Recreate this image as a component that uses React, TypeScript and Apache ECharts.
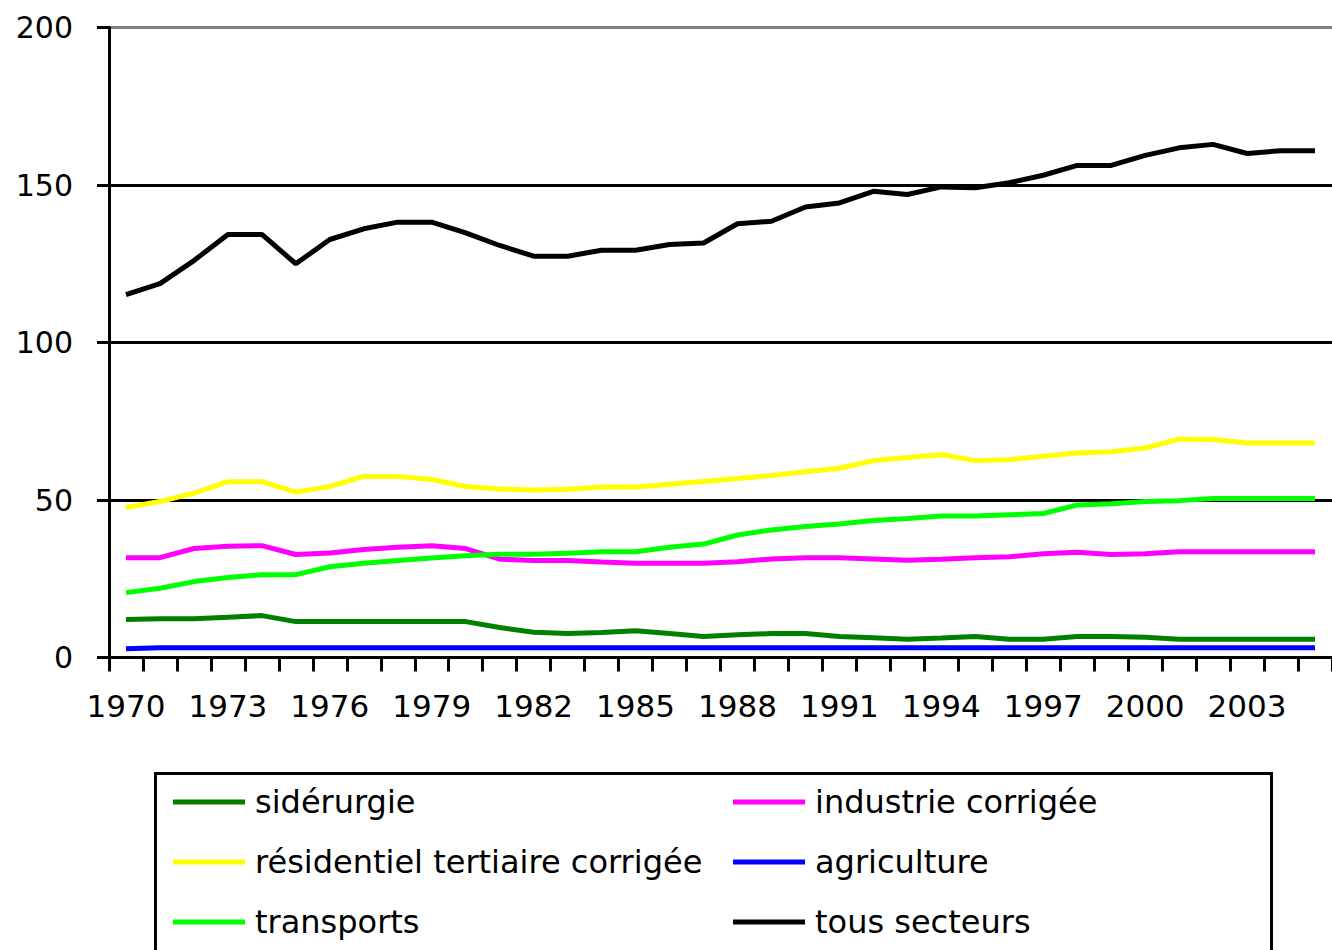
import React, { useEffect, useRef } from "react";
import * as echarts from "echarts";

const years = [
  "1970", "1971", "1972", "1973", "1974", "1975", "1976", "1977", "1978", "1979",
  "1980", "1981", "1982", "1983", "1984", "1985", "1986", "1987", "1988", "1989",
  "1990", "1991", "1992", "1993", "1994", "1995", "1996", "1997", "1998", "1999",
  "2000", "2001", "2002", "2003", "2004", "2005",
];

const siderurgie = [
  12.1, 12.3, 12.3, 12.8, 13.3, 11.4, 11.4, 11.4, 11.4, 11.4,
  11.4, 9.5, 8.0, 7.6, 7.9, 8.5, 7.6, 6.7, 7.2, 7.6,
  7.6, 6.7, 6.3, 5.8, 6.2, 6.7, 5.8, 5.8, 6.7, 6.7,
  6.4, 5.8, 5.8, 5.8, 5.8, 5.8,
];

const industrie = [
  31.7, 31.7, 34.6, 35.3, 35.5, 32.7, 33.2, 34.3, 35.0, 35.5,
  34.6, 31.2, 30.8, 30.8, 30.3, 29.9, 29.9, 29.9, 30.4, 31.3,
  31.7, 31.7, 31.3, 30.9, 31.2, 31.7, 32.0, 32.9, 33.4, 32.7,
  32.9, 33.6, 33.6, 33.6, 33.6, 33.6,
];

const residentiel = [
  47.6, 49.5, 52.2, 55.8, 55.8, 52.5, 54.3, 57.5, 57.5, 56.5,
  54.3, 53.5, 53.2, 53.4, 54.1, 54.1, 55.0, 55.9, 56.8, 57.8,
  59.0, 60.1, 62.5, 63.5, 64.4, 62.5, 62.8, 63.9, 64.9, 65.3,
  66.5, 69.3, 69.2, 68.1, 68.1, 68.1,
];

const agriculture = [
  2.8, 3.1, 3.1, 3.1, 3.1, 3.1, 3.1, 3.1, 3.1, 3.1,
  3.1, 3.1, 3.1, 3.1, 3.1, 3.1, 3.1, 3.1, 3.1, 3.1,
  3.1, 3.1, 3.1, 3.1, 3.1, 3.1, 3.1, 3.1, 3.1, 3.1,
  3.1, 3.1, 3.1, 3.1, 3.1, 3.1,
];

const transports = [
  20.6, 22.0, 24.1, 25.4, 26.3, 26.3, 28.8, 29.9, 30.8, 31.6,
  32.3, 32.8, 32.8, 33.1, 33.6, 33.6, 35.0, 36.0, 38.9, 40.5,
  41.6, 42.4, 43.5, 44.1, 44.9, 44.9, 45.3, 45.7, 48.4, 48.8,
  49.5, 49.8, 50.5, 50.5, 50.5, 50.5,
];

const tousSecteurs = [
  115.2, 118.7, 126.0, 134.3, 134.3, 125.0, 132.7, 136.1, 138.2, 138.2,
  134.8, 130.8, 127.4, 127.4, 129.3, 129.3, 131.1, 131.6, 137.7, 138.5,
  143.0, 144.3, 148.0, 147.0, 149.4, 149.1, 150.7, 153.1, 156.2, 156.2,
  159.4, 161.8, 162.9, 160.0, 160.9, 160.9,
];

const yTicks = { min: 0, max: 200, interval: 50 };

const seriesDefs = [
  { name: "sidérurgie", data: siderurgie, color: "#008000" },
  { name: "industrie corrigée", data: industrie, color: "#FF00FF" },
  { name: "résidentiel tertiaire corrigée", data: residentiel, color: "#FFFF00" },
  { name: "agriculture", data: agriculture, color: "#0000FF" },
  { name: "transports", data: transports, color: "#00FF00" },
  { name: "tous secteurs", data: tousSecteurs, color: "#000000" },
];

const FONT = "DejaVu Sans";

export default function App() {
  const ref = useRef<HTMLDivElement>(null);

  useEffect(() => {
    if (!ref.current) return;
    const chart = echarts.init(ref.current, null, { renderer: "svg" });
    const legendText = {
      fontFamily: FONT,
      fontSize: 32,
      lineHeight: 32,
      color: "#000",
      padding: [0, 0, 0, 5],
    };
    chart.setOption({
      animation: false,
      backgroundColor: "#fff",
      grid: { left: 109, right: 0, top: 27.5, bottom: 292.5, containLabel: false },
      xAxis: {
        type: "category",
        data: years,
        boundaryGap: true,
        axisLine: { show: true, lineStyle: { color: "#000", width: 3 } },
        axisTick: { show: true, interval: 0, length: 14, lineStyle: { color: "#000", width: 3 } },
        axisLabel: {
          interval: 2,
          margin: 33,
          color: "#000",
          fontFamily: FONT,
          fontSize: 31,
        },
        splitLine: { show: false },
      },
      yAxis: {
        type: "value",
        min: yTicks.min,
        max: yTicks.max,
        interval: yTicks.interval,
        axisLine: { show: true, lineStyle: { color: "#000", width: 3 } },
        axisTick: { show: true, length: 12, lineStyle: { color: "#000", width: 3 } },
        axisLabel: {
          margin: 36,
          color: "#000",
          fontFamily: FONT,
          fontSize: 30,
        },
        splitLine: {
          show: true,
          lineStyle: {
            color: ["#000", "#000", "#000", "#000", "#808080"],
            width: 3,
          },
        },
      },
      legend: [
        {
          orient: "vertical",
          left: 173,
          top: 786,
          padding: 0,
          itemGap: 28,
          itemWidth: 72,
          itemHeight: 5,
          icon: "rect",
          selectedMode: false,
          textStyle: legendText,
          data: ["sidérurgie", "résidentiel tertiaire corrigée", "transports"],
        },
        {
          orient: "vertical",
          left: 733,
          top: 786,
          padding: 0,
          itemGap: 28,
          itemWidth: 72,
          itemHeight: 5,
          icon: "rect",
          selectedMode: false,
          textStyle: legendText,
          data: ["industrie corrigée", "agriculture", "tous secteurs"],
        },
      ],
      graphic: [
        {
          type: "rect",
          left: 153,
          top: 771,
          shape: { x: 0, y: 0, width: 1116, height: 220 },
          style: { fill: "none", stroke: "#000", lineWidth: 3 },
          silent: true,
        },
      ],
      series: seriesDefs.map((s) => ({
        name: s.name,
        type: "line",
        data: s.data,
        color: s.color,
        showSymbol: false,
        symbol: "none",
        lineStyle: { color: s.color, width: 5 },
        itemStyle: { color: s.color },
      })),
    });
    return () => chart.dispose();
  }, []);

  return (
    <div
      ref={ref}
      style={{ position: "fixed", left: 0, top: 0, width: 1332, height: 950 }}
    />
  );
}
